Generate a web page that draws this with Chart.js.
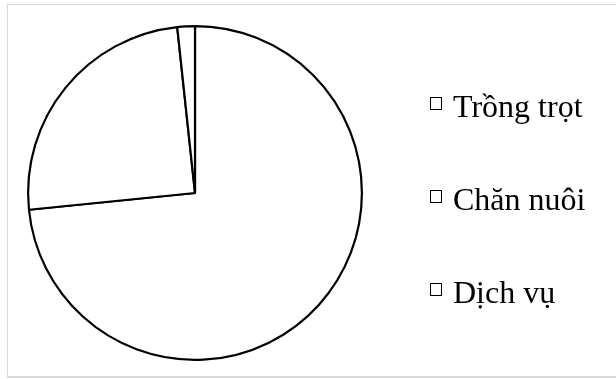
<!DOCTYPE html>
<html>
<head>
<meta charset="utf-8">
<script src="https://cdn.jsdelivr.net/npm/chart.js@4/dist/chart.umd.min.js"></script>
<style>
    html, body { margin: 0; padding: 0; background: #fff; overflow: hidden; }
    #wrap { position: relative; width: 616px; height: 379px; }
    #frame {
        position: absolute; left: 7px; top: 4px; width: 640px; height: 371px;
        border: 1px solid #d9d9d9; border-bottom-width: 2px;
    }
    #chart { position: absolute; left: 0; top: 0; }
    .legend-item { position: absolute; left: 430px; height: 32px; }
    .legend-box {
        position: absolute; left: 0; width: 12px; height: 13px;
        box-sizing: border-box; border: 1.6px solid #000; background: #fff;
    }
    .legend-text {
        position: absolute; left: 23px; top: 0; white-space: nowrap;
        font-family: "Liberation Serif", "Times New Roman", serif;
        font-size: 32px; line-height: 32px; color: #000;
    }
</style>
</head>
<body>
<div id="wrap">
    <div id="frame"></div>
    <canvas id="chart" width="616" height="379"></canvas>
    <div id="legend"></div>
</div>
<script>
const labels = ['Trồng trọt', 'Chăn nuôi', 'Dịch vụ'];
const values = [73.4, 24.9, 1.7];

// legend rows, baseline of each text line
const legendBaselines = [117, 210, 303];

window.addEventListener('load', () => {
    const ctx = document.getElementById('chart').getContext('2d');

    new Chart(ctx, {
        type: 'pie',
        data: {
            labels: labels,
            datasets: [{
                data: values,
                backgroundColor: '#ffffff',
                borderColor: '#000000',
                borderWidth: 2.2
            }]
        },
        options: {
            responsive: false,
            animation: false,
            layout: {
                padding: { left: 27, right: 253, top: 25, bottom: 18 }
            },
            plugins: {
                legend: { display: false },
                tooltip: { enabled: false }
            }
        }
    });

    // HTML legend built from the labels
    const legend = document.getElementById('legend');
    labels.forEach((label, i) => {
        const item = document.createElement('div');
        item.className = 'legend-item';
        item.style.top = (legendBaselines[i] - 27) + 'px';
        item.innerHTML = `
            <div class="legend-box" style="top: 7px;"></div>
            <div class="legend-text">${label}</div>
        `;
        legend.appendChild(item);
    });
});
</script>
</body>
</html>
